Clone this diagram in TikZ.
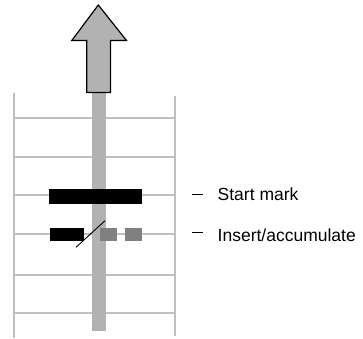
\documentclass[tikz,border=0pt]{standalone}
\usepackage{fontspec}
\setmainfont{Liberation Sans}
\begin{document}
\begin{tikzpicture}[x=1bp,y=-1bp,
  rail/.style={draw=black!25,line width=2bp},
  bigarrow/.style={draw=black,line width=1.2bp,fill=black!30,line join=miter},
  label/.style={anchor=west,inner sep=0pt,font=\fontsize{17.5bp}{20bp}\selectfont},
  tick/.style={draw=black,line width=0.9bp}]
\useasboundingbox (0,0) rectangle (363,339);
% ladder
\draw[rail] (14,93) -- (14,338);
\draw[rail] (175,96) -- (175,336);
\foreach \y in {118,157,195,234,275,313}
  \draw[rail] (14,\y) -- (175,\y);
% central bar
\fill[black!30] (91.5,92) rectangle (105.5,331);
% big arrow
\draw[bigarrow] (98.3,5) -- (126.5,40.5) -- (110.5,40.5) -- (110.5,92.5) -- (86.8,92.5) -- (86.8,40.5) -- (71.8,40.5) -- cycle;
% start mark
\fill[black] (49.3,189) rectangle (141.7,204);
% insert
\fill[black] (50,228.3) rectangle (84.3,240.7);
\fill[black!50] (99.5,228.3) rectangle (116.5,240.7);
\fill[black!50] (125,228.3) rectangle (141.7,240.7);
\coordinate (d1) at (76,247.3);
\coordinate (d2) at (105,220.7);
\draw[black,line width=0.9bp] (d1) -- (d2);
% labels
\coordinate (t1a) at (191.7,194);
\coordinate (t1b) at (203.3,194);
\coordinate (t2a) at (191.7,232.7);
\coordinate (t2b) at (203.3,232.7);
\draw[tick] (t1a) -- (t1b);
\draw[tick] (t2a) -- (t2b);
\node[label] (sm) at (217.5,194.5) {Start mark};
\node[label] (ia) at (217.5,235) {Insert/accumulate};
\end{tikzpicture}
\end{document}
